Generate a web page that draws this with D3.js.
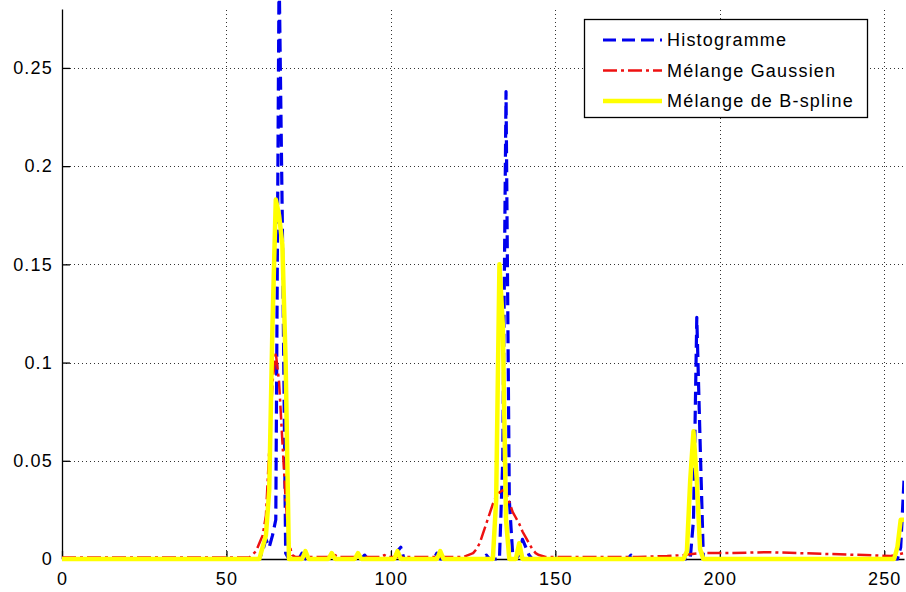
<!DOCTYPE html>
<html>
<head>
<meta charset="utf-8">
<script src="https://cdnjs.cloudflare.com/ajax/libs/d3/7.8.5/d3.min.js"></script>
<style>
body { margin: 0; background: #fff; }
text { font-family: "Liberation Sans", Arial, sans-serif; font-size: 18px; fill: #000; letter-spacing: 1.2px; }
</style>
</head>
<body>
<div id="chartDiv"></div>
<script>
var w = 906
var h = 592

// axis ticks
var xTicks = [0, 50, 100, 150, 200, 250]
var yTicks = [0, 0.05, 0.1, 0.15, 0.2, 0.25]
var yTickLabels = ["0", "0.05", "0.1", "0.15", "0.2", "0.25"]

var seriesNames = ["Histogramme", "Mélange Gaussien", "Mélange de B-spline"]

// histogram (zero stretches are given by their end points only)
var histX = [0, 60, 61, 62, 63, 64, 65, 66, 67, 68, 69,
	72, 73, 74, 81, 82, 83, 91, 92, 93, 101, 102, 103, 104, 113, 114, 115,
	128, 129, 130, 133, 134, 135, 136, 137, 138, 139, 140, 141, 142, 143,
	172, 173, 174, 191, 192, 193, 194, 195, 254, 255, 256]
var histY = [0, 0, 0.004, 0.01, 0.006, 0.012, 0.02, 0.30, 0.17, 0.003, 0,
	0, 0.003, 0, 0, 0.003, 0, 0, 0.002, 0, 0, 0.004, 0.006, 0, 0, 0.003, 0,
	0, 0.002, 0, 0, 0.05, 0.238, 0.03, 0.003, 0, 0.002, 0.01, 0.006, 0.002, 0,
	0, 0.002, 0, 0, 0.02, 0.123, 0.06, 0, 0, 0.006, 0.04]

// gaussian mixture
var gaussX = [0, 57, 59, 60, 61, 62, 63, 64, 65, 66, 67, 68, 69, 70, 71,
	82, 83, 84, 97, 98, 99, 112, 122,
	125, 126, 127, 128, 129, 130, 131, 132, 133, 134, 135, 136, 137, 138, 139, 140, 141, 142, 143, 144, 145, 147,
	175, 184, 189, 194, 204, 214, 224, 234, 244, 252, 256]
var gaussY = [0.0008, 0.0008, 0.004, 0.008, 0.012, 0.022, 0.055, 0.09, 0.105, 0.09, 0.06, 0.03, 0.008, 0.002, 0.001,
	0.001, 0.002, 0.001, 0.001, 0.002, 0.001, 0.001, 0.001,
	0.003, 0.005, 0.008, 0.013, 0.018, 0.023, 0.028, 0.032, 0.034, 0.035, 0.034, 0.029, 0.024, 0.021, 0.018, 0.014, 0.011, 0.008, 0.005, 0.003, 0.002, 0.001,
	0.001, 0.0015, 0.002, 0.003, 0.003, 0.0035, 0.003, 0.0025, 0.002, 0.0015, 0.003]

// B-spline mixture
var splX = [0, 60, 61, 62, 63, 64, 65, 66, 67, 68, 69,
	73, 74, 75, 81, 82, 83, 89, 90, 91, 101, 102, 103, 114, 115, 116,
	131, 132, 133, 134, 135, 136, 138, 139, 140,
	189, 190, 191, 192, 193, 194, 195, 253, 254, 255, 256]
var splY = [0, 0, 0.006, 0.012, 0.035, 0.12, 0.183, 0.175, 0.16, 0.1, 0,
	0, 0.004, 0, 0, 0.003, 0, 0, 0.003, 0, 0, 0.004, 0, 0, 0.004, 0,
	0, 0.03, 0.15, 0.12, 0.02, 0, 0, 0.008, 0,
	0, 0.004, 0.04, 0.065, 0.04, 0.005, 0, 0, 0.006, 0.02, 0.02]

var left = 62, bottom = 559, plotTop = 9, plotRight = 904

var svg = d3.select("#chartDiv")
	.append("svg")
	.attr("width", w)
	.attr("height", h)
	.style("display", "block")

var x = d3.scaleLinear()
	.domain([0, 256])
	.range([left, plotRight])

var y = d3.scaleLinear()
	.domain([0, 0.28])
	.range([bottom, plotTop])

// grid
var gridG = svg.append("g")
	.style("stroke", "#333")
	.style("stroke-width", "1px")
	.style("stroke-dasharray", "1,3")

gridG.selectAll(".hgrid")
	.data(yTicks.slice(1))
	.enter()
	.append("line")
	.attr("x1", left)
	.attr("x2", w)
	.attr("y1", function(d) {return Math.round(y(d)) + 0.5})
	.attr("y2", function(d) {return Math.round(y(d)) + 0.5})

gridG.selectAll(".vgrid")
	.data(xTicks.slice(1))
	.enter()
	.append("line")
	.attr("x1", function(d) {return Math.round(x(d)) + 0.5})
	.attr("x2", function(d) {return Math.round(x(d)) + 0.5})
	.attr("y1", bottom)
	.attr("y2", plotTop)

// axes
var xAxis = d3.axisBottom(x)
	.tickValues(xTicks)
	.tickSizeInner(-8)
	.tickSizeOuter(0)
	.tickPadding(13)
	.tickFormat(d3.format("d"))

var yAxis = d3.axisLeft(y)
	.tickValues(yTicks)
	.tickSizeInner(-8)
	.tickSizeOuter(0)
	.tickPadding(9)
	.tickFormat(function(d, i) {return yTickLabels[i]})

var xAxisG = svg.append("g")
	.attr("transform", "translate(0," + bottom + ")")
	.call(xAxis)

var yAxisG = svg.append("g")
	.attr("transform", "translate(" + left + ",0)")
	.call(yAxis)

// ticks point into the plot
xAxisG.selectAll(".tick line").attr("y2", -8)
yAxisG.selectAll(".tick line").attr("x2", 8)

svg.selectAll(".domain, .tick line")
	.style("stroke", "#000")
	.style("stroke-width", "1.3px")
svg.selectAll(".tick text")
	.attr("fill", "#000")
xAxisG.attr("font-family", null).attr("font-size", null)
yAxisG.attr("font-family", null).attr("font-size", null)

// data
svg.append("clipPath")
	.attr("id", "plotClip")
	.append("rect")
	.attr("x", left)
	.attr("y", 0)
	.attr("width", plotRight - left)
	.attr("height", bottom + 4)

var line = d3.line()
	.x(function(d) {return x(d[0])})
	.y(function(d) {return y(d[1])})

var series = [
	{pts: histX.map(function(v, i) {return [v, histY[i]]}), colour: "#0000ee", width: 3.2, dash: "13,6"},
	{pts: gaussX.map(function(v, i) {return [v, gaussY[i]]}), colour: "#ee1111", width: 2.5, dash: "14,4,3,4"},
	{pts: splX.map(function(v, i) {return [v, splY[i]]}), colour: "#ffff00", width: 4.5, dash: null}
]

var dataG = svg.append("g")
	.attr("clip-path", "url(#plotClip)")

dataG.selectAll(".series")
	.data(series)
	.enter()
	.append("path")
	.classed("series", true)
	.attr("d", function(d) {return line(d.pts)})
	.style("fill", "none")
	.style("stroke", function(d) {return d.colour})
	.style("stroke-width", function(d) {return d.width + "px"})
	.style("stroke-dasharray", function(d) {return d.dash})
	.style("stroke-linejoin", "round")

// legend
var legG = svg.append("g")

legG.append("rect")
	.attr("x", 584.5)
	.attr("y", 19.5)
	.attr("width", 283)
	.attr("height", 98)
	.style("fill", "#fff")
	.style("stroke", "#000")
	.style("stroke-width", "1.3px")

var legItem = legG.selectAll(".legItem")
	.data(series)
	.enter()
	.append("g")
	.classed("legItem", true)
	.attr("transform", function(d, i) {return "translate(0," + (40 + i * 30.5) + ")"})

legItem.append("line")
	.attr("x1", 603)
	.attr("x2", 662)
	.style("stroke", function(d) {return d.colour})
	.style("stroke-width", function(d) {return d.width + "px"})
	.style("stroke-dasharray", function(d) {return d.dash})

legItem.append("text")
	.attr("x", 667)
	.attr("dy", "0.36em")
	.text(function(d, i) {return seriesNames[i]})
</script>
</body>
</html>
